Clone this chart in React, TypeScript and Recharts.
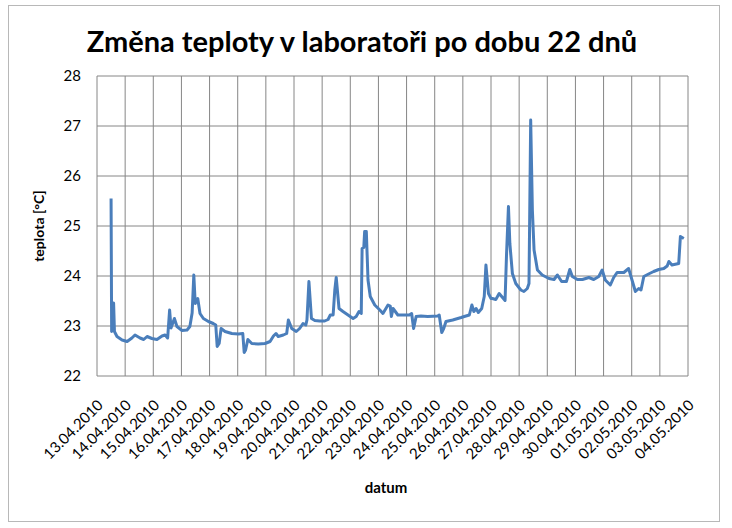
import React from 'react';
import { LineChart, Line, XAxis, YAxis, CartesianGrid } from 'recharts';

const dateLabels = [
  '13.04.2010', '14.04.2010', '15.04.2010', '16.04.2010', '17.04.2010', '18.04.2010',
  '19.04.2010', '20.04.2010', '21.04.2010', '22.04.2010', '23.04.2010', '24.04.2010',
  '25.04.2010', '26.04.2010', '27.04.2010', '28.04.2010', '29.04.2010', '30.04.2010',
  '01.05.2010', '02.05.2010', '03.05.2010', '04.05.2010',
];
const dayTicks = dateLabels.map((_, i) => i);
const tempTicks = [22, 23, 24, 25, 26, 27, 28];

// time in days since 13.04.2010 00:00
const days = [
  0.50, 0.52, 0.59, 0.62, 0.71, 0.89, 1.07, 1.24, 1.35, 1.53, 1.66, 1.78, 1.95, 2.13, 2.31, 2.42,
  2.51, 2.58, 2.63, 2.75, 2.84, 3.02, 3.20, 3.30, 3.38, 3.44, 3.49, 3.58, 3.66, 3.78, 3.96, 4.13,
  4.22, 4.27, 4.34, 4.41, 4.55, 4.79, 5.02, 5.18, 5.23, 5.28, 5.36, 5.50, 5.73, 5.97, 6.15, 6.27,
  6.36, 6.44, 6.62, 6.74, 6.80, 6.92, 7.08, 7.20, 7.32, 7.42, 7.46, 7.53, 7.62, 7.74, 7.91, 8.09,
  8.21, 8.29, 8.39, 8.45, 8.50, 8.60, 8.74, 8.92, 9.10, 9.21, 9.31, 9.39, 9.42, 9.48, 9.51, 9.57,
  9.63, 9.71, 9.87, 10.05, 10.16, 10.34, 10.42, 10.46, 10.52, 10.69, 10.92, 11.10, 11.18, 11.25,
  11.34, 11.51, 11.75, 12.11, 12.16, 12.25, 12.32, 12.40, 12.64, 12.94, 13.05, 13.23, 13.32,
  13.39, 13.47, 13.55, 13.67, 13.76, 13.82, 13.91, 14.00, 14.05, 14.17, 14.29, 14.38, 14.50,
  14.55, 14.62, 14.67, 14.76, 14.88, 15.06, 15.17, 15.29, 15.35, 15.41, 15.47, 15.53, 15.65,
  15.82, 16.06, 16.24, 16.36, 16.44, 16.51, 16.68, 16.80, 16.89, 17.07, 17.25, 17.48, 17.65,
  17.83, 17.95, 18.06, 18.24, 18.36, 18.48, 18.72, 18.89, 19.01, 19.13, 19.25, 19.33, 19.43,
  19.60, 19.78, 19.96, 20.14, 20.26, 20.32, 20.43, 20.67, 20.73, 20.85,
];
const temps = [
  25.55, 22.89, 23.46, 22.89, 22.79, 22.72, 22.69, 22.76, 22.82, 22.76, 22.73, 22.79, 22.75, 22.73, 22.80, 22.82,
  22.76, 23.32, 22.96, 23.15, 22.99, 22.91, 22.92, 22.99, 23.26, 24.02, 23.45, 23.55, 23.25, 23.15, 23.09, 23.05,
  23.02, 22.59, 22.65, 22.95, 22.89, 22.85, 22.84, 22.85, 22.47, 22.52, 22.73, 22.65, 22.64, 22.65, 22.69, 22.80,
  22.85, 22.79, 22.82, 22.85, 23.12, 22.95, 22.89, 22.95, 23.05, 23.02, 23.12, 23.89, 23.15, 23.11, 23.10, 23.10,
  23.13, 23.22, 23.22, 23.72, 23.97, 23.35, 23.29, 23.22, 23.15, 23.19, 23.29, 23.25, 24.55, 24.57, 24.89, 24.89,
  23.92, 23.59, 23.42, 23.32, 23.25, 23.42, 23.40, 23.19, 23.35, 23.22, 23.22, 23.22, 23.25, 22.95,
  23.19, 23.20, 23.19, 23.20, 23.22, 22.87, 22.95, 23.09, 23.12, 23.17, 23.19, 23.22, 23.42,
  23.29, 23.35, 23.27, 23.35, 23.59, 24.22, 23.65, 23.55, 23.55, 23.53, 23.65, 23.59, 23.51,
  24.40, 25.39, 24.65, 24.05, 23.85, 23.72, 23.69, 23.75, 23.85, 27.12, 25.32, 24.52, 24.12,
  24.02, 23.95, 23.93, 24.02, 23.95, 23.89, 23.89, 24.13, 23.99, 23.93, 23.93, 23.97, 23.93,
  23.99, 24.12, 23.92, 23.82, 23.97, 24.07, 24.07, 24.15, 23.92, 23.69, 23.75, 23.72, 23.99,
  24.04, 24.09, 24.13, 24.15, 24.20, 24.29, 24.22, 24.25, 24.79, 24.75,
];

const data = days.map((d, i) => ({ d, t: temps[i] }));

const FONT = 'Lato, "DejaVu Sans", sans-serif';

const XTick = (props: any) => {
  const { x, y, payload } = props;
  const ax = x + 7;
  const ay = y + 30;
  return (
    <text
      x={ax}
      y={ay}
      transform={`rotate(-45, ${ax}, ${ay})`}
      textAnchor="end"
      fontSize={15}
      fontFamily={FONT}
      fill="#000"
    >
      {dateLabels[payload.value]}
    </text>
  );
};

export default function App() {
  return (
    <div style={{ position: 'absolute', left: 0, top: 0, width: 732, height: 528, background: '#fff' }}>
      <div
        style={{
          position: 'absolute', left: 8, top: 5, width: 712, height: 517,
          border: '1px solid #b8b8b8', boxSizing: 'border-box',
        }}
      />
      <LineChart
        width={732}
        height={528}
        data={data}
        margin={{ top: 76, right: 44, bottom: 72, left: 0 }}
      >
        <CartesianGrid stroke="#868686" strokeWidth={1} />
        <XAxis
          dataKey="d"
          type="number"
          domain={[0, 21]}
          ticks={dayTicks}
          interval={0}
          axisLine={false}
          tickLine={false}
          tickSize={0}
          tickMargin={0}
          height={80}
          tick={<XTick />}
        />
        <YAxis
          type="number"
          domain={[22, 28]}
          ticks={tempTicks}
          interval={0}
          axisLine={false}
          tickLine={false}
          width={97}
          tickMargin={10}
          tick={{ fontSize: 15, fill: '#000', fontFamily: FONT }}
        />
        <Line
          type="linear"
          dataKey="t"
          stroke="#4a7ebb"
          strokeWidth={3}
          strokeLinejoin="round"
          dot={false}
          isAnimationActive={false}
        />
      </LineChart>
      <svg
        width={732}
        height={528}
        style={{ position: 'absolute', left: 0, top: 0, pointerEvents: 'none' }}
      >
        <text x={362} y={52} textAnchor="middle" fontSize={29} fontWeight="bold" fontFamily={FONT} fill="#000">
          Změna teploty v laboratoři po dobu 22 dnů
        </text>
        <text
          x={44}
          y={226}
          transform="rotate(-90, 44, 226)"
          textAnchor="middle"
          fontSize={14}
          fontWeight="bold"
          fontFamily={FONT}
          fill="#000"
        >
          teplota [°C]
        </text>
        <text x={386} y={493} textAnchor="middle" fontSize={15} fontWeight="bold" fontFamily={FONT} fill="#000">
          datum
        </text>
      </svg>
    </div>
  );
}
